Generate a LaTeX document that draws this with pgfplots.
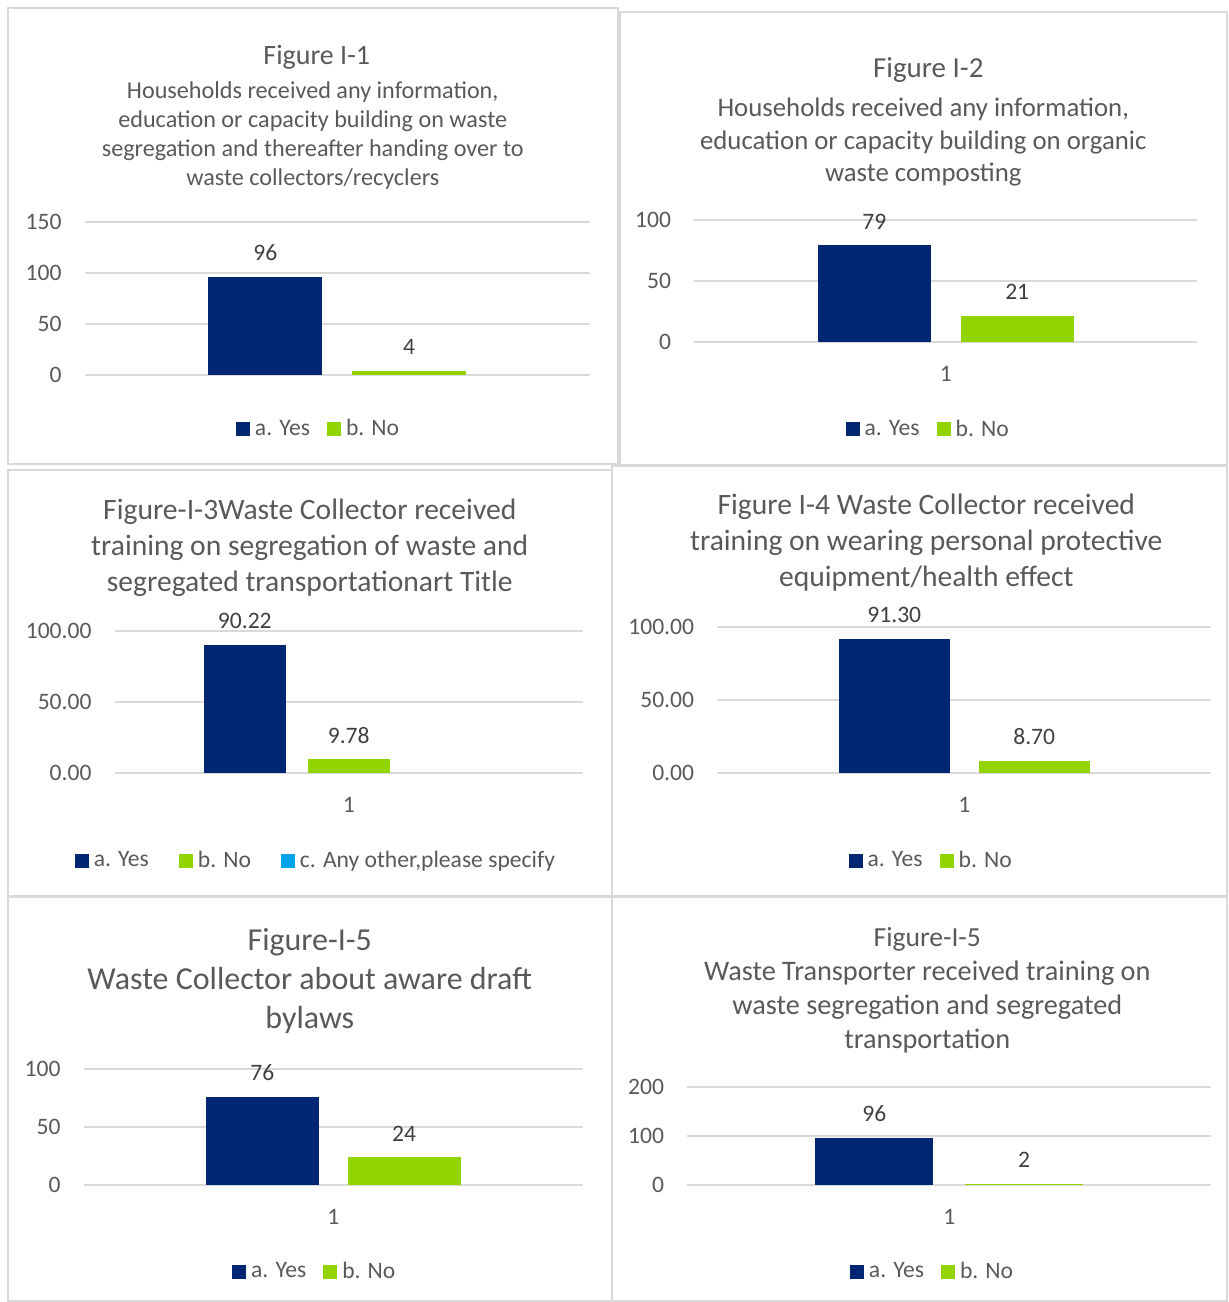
\documentclass[border=0pt]{standalone}
\usepackage{fontspec}
\setmainfont{Carlito}
\usepackage{pgfplots}
\pgfplotsset{compat=1.18}
\definecolor{navy}{HTML}{002672}
\definecolor{lgreen}{HTML}{92D400}
\definecolor{cyanx}{HTML}{00A2E8}
\definecolor{gridc}{HTML}{D9D9D9}
\definecolor{txt}{HTML}{595959}
\definecolor{lab}{HTML}{404040}
\newcommand{\tk}{\fontsize{11.8}{14}\selectfont}
\pgfplotsset{
 panel/.style={
  scale only axis, anchor=south west, clip=false,
  ymin=0, xmin=0.5, xmax=1.5, xtick={1}, xticklabels={1},
  axis line style={draw=none}, major tick style={draw=none},
  ymajorgrids, grid style={gridc, line width=1pt},
  /pgf/number format/assume math mode=true,
  tick label style={font=\tk, text=txt},
  yticklabel style={inner sep=0pt, xshift=-11.5pt},
  xticklabel style={inner sep=0pt, yshift=-12pt},
  legend image code/.code={\path[##1, draw=none] (0pt,-3.5pt) rectangle (7pt,3.5pt);},
  legend style={draw=none, fill=none, font=\tk, text=txt, anchor=center, yshift=-1.3pt,
     /tikz/every odd column/.append style={column sep=0.5pt},
     /tikz/every even column/.append style={column sep=6.5pt}},
  legend columns=-1,
 },
 bb/.style n args={3}{ybar, draw=none, forget plot, fill=#1, bar width=#2, bar shift=#3,
   nodes near coords,
   every node near coord/.append style={inner sep=0pt, yshift=7.9pt, xshift=#3, font=\tk, text=lab}},
}
\begin{document}
\begin{tikzpicture}[x=0.5pt,y=-0.5pt]
\path (0,0) rectangle (1229,1302);
% panel borders
\begin{scope}[draw=gridc, line width=1pt]
\draw (8,8) rectangle (618,464);
\draw (620,12) rectangle (1228,465);
\draw (8,470) rectangle (612,897);
\draw (612,466) rectangle (1228,897);
\draw (8,898) rectangle (612,1302);
\draw (612,898) rectangle (1228,1302);
\end{scope}

% ---------- Panel 1
\node[font=\fontsize{14}{16}\selectfont, text=txt, anchor=mid] at (317,60) {Figure I-1};
\begin{scope}[every node/.style={font=\fontsize{12.1}{14}\selectfont, text=txt, anchor=mid}]
\node at (313,94) {Households received any information,};
\node at (313,123) {education or capacity building on waste};
\node at (313,152) {segregation and thereafter handing over to};
\node at (313,181) {waste collectors/recyclers};
\end{scope}
\begin{axis}[panel, at={(42.5pt,-187.5pt)}, width=252.5pt, height=76.5pt,
  ymax=150, ytick={0,50,100,150}, xtick=\empty,
  legend style={at={(0.465,-0.34)}}]
\addplot[bb={navy}{57pt}{-36pt}] coordinates {(1,96)};
\addplot[bb={lgreen}{57pt}{36pt}] coordinates {(1,4)};
\addlegendimage{fill=navy}\addlegendentry{a. Yes}
\addlegendimage{fill=lgreen}\addlegendentry{b. No}
\end{axis}

% ---------- Panel 2
\node[font=\fontsize{14.5}{17}\selectfont, text=txt, anchor=mid] at (929,73) {Figure I-2};
\begin{scope}[every node/.style={font=\fontsize{13.4}{15}\selectfont, text=txt, anchor=mid}]
\node at (924,112) {Households received any information,};
\node at (924,145) {education or capacity building on organic};
\node at (924,177) {waste composting};
\end{scope}
\begin{axis}[panel, at={(347.5pt,-171pt)}, width=251.5pt, height=61pt,
  ymax=100, ytick={0,50,100},
  legend style={at={(0.467,-0.697)}}]
\addplot[bb={navy}{56.5pt}{-35.75pt}] coordinates {(1,79)};
\addplot[bb={lgreen}{56.5pt}{35.75pt}] coordinates {(1,21)};
\addlegendimage{fill=navy}\addlegendentry{a. Yes}
\addlegendimage{fill=lgreen}\addlegendentry{b. No}
\end{axis}

% ---------- Panel 3
\begin{scope}[every node/.style={font=\fontsize{14.8}{17}\selectfont, text=txt, anchor=mid}]
\node at (310,515) {Figure-I-3Waste Collector received};
\node at (310,551) {training on segregation of waste and};
\node at (310,587) {segregated transportationart Title};
\end{scope}
\begin{axis}[panel, at={(57.5pt,-387pt)}, width=234pt, height=71.5pt,
  ymax=100, ytick={0,50,100},
  /pgf/number format/fixed, /pgf/number format/fixed zerofill, /pgf/number format/precision=2,
  legend style={at={(0.432,-0.594)}, /tikz/every even column/.append style={column sep=13pt}}]
\addplot[bb={navy}{41pt}{-52pt}] coordinates {(1,90.22)};
\addplot[bb={lgreen}{41pt}{0pt}] coordinates {(1,9.78)};
\addlegendimage{fill=navy}\addlegendentry{a. Yes}
\addlegendimage{fill=lgreen}\addlegendentry{b. No}
\addlegendimage{fill=cyanx}\addlegendentry{c. Any other,please specify}
\end{axis}

% ---------- Panel 4
\begin{scope}[every node/.style={font=\fontsize{14.8}{17}\selectfont, text=txt, anchor=mid}]
\node at (927,510) {Figure I-4 Waste Collector received};
\node at (927,546) {training on wearing personal protective};
\node at (927,582) {equipment/health effect};
\end{scope}
\begin{axis}[panel, at={(359pt,-387pt)}, width=247pt, height=73.5pt,
  ymax=100, ytick={0,50,100},
  /pgf/number format/fixed, /pgf/number format/fixed zerofill, /pgf/number format/precision=2,
  legend style={at={(0.435,-0.578)}}]
\addplot[bb={navy}{55.5pt}{-35pt}] coordinates {(1,91.30)};
\addplot[bb={lgreen}{55.5pt}{35pt}] coordinates {(1,8.70)};
\addlegendimage{fill=navy}\addlegendentry{a. Yes}
\addlegendimage{fill=lgreen}\addlegendentry{b. No}
\end{axis}

% ---------- Panel 5
\begin{scope}[every node/.style={font=\fontsize{16}{18}\selectfont, text=txt, anchor=mid}]
\node at (310,946) {Figure-I-5};
\node at (310,985) {Waste Collector about aware draft};
\node at (310,1024) {bylaws};
\end{scope}
\begin{axis}[panel, at={(42pt,-593pt)}, width=249.5pt, height=58pt,
  ymax=100, ytick={0,50,100},
  legend style={at={(0.465,-0.724)}}]
\addplot[bb={navy}{56.5pt}{-35.5pt}] coordinates {(1,76)};
\addplot[bb={lgreen}{56.5pt}{35.5pt}] coordinates {(1,24)};
\addlegendimage{fill=navy}\addlegendentry{a. Yes}
\addlegendimage{fill=lgreen}\addlegendentry{b. No}
\end{axis}

% ---------- Panel 6
\node[font=\fontsize{13.8}{16}\selectfont, text=txt, anchor=mid] at (928,942) {Figure-I-5};
\begin{scope}[every node/.style={font=\fontsize{14.15}{16}\selectfont, text=txt, anchor=mid}]
\node at (928,976) {Waste Transporter received training on};
\node at (928,1010) {waste segregation and segregated};
\node at (928,1045) {transportation};
\end{scope}
\begin{axis}[panel, at={(344pt,-593pt)}, width=262pt, height=49pt,
  ymax=200, ytick={0,100,200},
  legend style={at={(0.47,-0.857)}}]
\addplot[bb={navy}{59pt}{-37.5pt}] coordinates {(1,96)};
\addplot[bb={lgreen}{59pt}{37.5pt}] coordinates {(1,2)};
\addlegendimage{fill=navy}\addlegendentry{a. Yes}
\addlegendimage{fill=lgreen}\addlegendentry{b. No}
\end{axis}
\end{tikzpicture}
\end{document}
